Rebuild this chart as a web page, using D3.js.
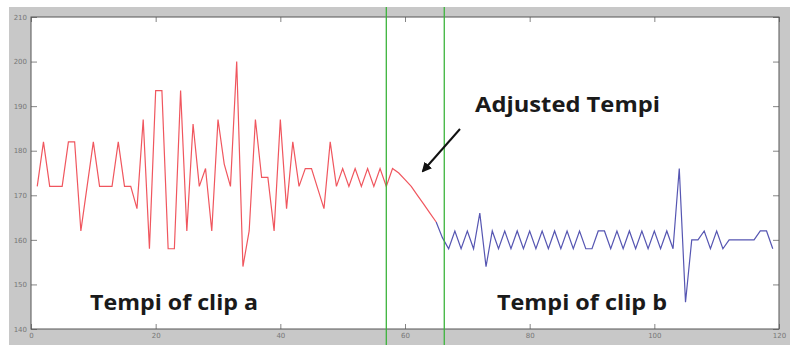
<!DOCTYPE html>
<html>
<head>
<meta charset="utf-8">
<script src="https://cdn.jsdelivr.net/npm/d3@7"></script>
<style>
  body { margin: 0; background: #fff; }
  svg { display: block; }
</style>
</head>
<body>
<svg id="chart" width="790" height="345"></svg>
<script>
// tempo of clip a (samples 1..65, the tail after 58 is the adjusted part)
const clipAStart = 1;
const clipATempi = [
  172, 182, 172, 172, 172, 182, 182, 162, 172, 182,
  172, 172, 172, 182, 172, 172, 167, 187, 158, 193.5,
  193.5, 158, 158, 193.5, 162, 186, 172, 176, 162, 187,
  177, 172, 200, 154, 162, 187, 174, 174, 162, 187,
  167, 182, 172, 176, 176, 171.5, 167, 182, 172, 176,
  172, 176, 172, 176, 172, 176, 172, 176, 175, 173.5,
  172, 170, 168, 166, 164
];
// tempo of clip b (samples 65..119)
const clipBStart = 65;
const clipBTempi = [
  164, 160.5, 158, 162, 158, 162, 158, 166, 154, 162,
  158, 162, 158, 162, 158, 162, 158, 162, 158, 162,
  158, 162, 158, 162, 158, 158, 162, 162, 158, 162,
  158, 162, 158, 162, 158, 162, 158, 162, 158, 176,
  146, 160, 160, 162, 158, 162, 158, 160, 160, 160,
  160, 160, 162, 162, 158
];
const markers = [57, 66.3];
const xTicks = [0, 20, 40, 60, 80, 100, 120];
const yTicks = [140, 150, 160, 170, 180, 190, 200, 210];

const svg = d3.select('#chart');
const plot = { left: 31, right: 779, top: 17, bottom: 329 };

const x = d3.scaleLinear().domain([0, 120]).range([plot.left, plot.right]);
const y = d3.scaleLinear().domain([140, 210]).range([plot.bottom, plot.top]);

// figure background (matlab grey) and axes area
svg.append('rect')
  .attr('x', 9).attr('y', 7)
  .attr('width', 781).attr('height', 338)
  .attr('fill', '#c8c8c8');
svg.append('rect')
  .attr('x', plot.left).attr('y', plot.top)
  .attr('width', plot.right - plot.left).attr('height', plot.bottom - plot.top)
  .attr('fill', '#fff');

// axes, ticks pointing inward on all four sides
const tickStyle = g => {
  g.select('.domain').remove();
  g.selectAll('line').attr('stroke', '#666').attr('stroke-width', 0.8);
  g.selectAll('text')
    .attr('fill', '#777')
    .style('font-family', 'DejaVu Sans')
    .style('font-size', '7px');
};

svg.append('g')
  .attr('transform', `translate(0,${plot.bottom})`)
  .call(d3.axisBottom(x).tickValues(xTicks).tickSize(-5).tickPadding(4))
  .call(tickStyle);
svg.append('g')
  .attr('transform', `translate(0,${plot.top})`)
  .call(d3.axisTop(x).tickValues(xTicks).tickSize(-5).tickFormat(''))
  .call(tickStyle);
svg.append('g')
  .attr('transform', `translate(${plot.left},0)`)
  .call(d3.axisLeft(y).tickValues(yTicks).tickSize(-6).tickPadding(4))
  .call(tickStyle);
svg.append('g')
  .attr('transform', `translate(${plot.right},0)`)
  .call(d3.axisRight(y).tickValues(yTicks).tickSize(-6).tickFormat(''))
  .call(tickStyle);

svg.append('rect')
  .attr('x', plot.left).attr('y', plot.top)
  .attr('width', plot.right - plot.left).attr('height', plot.bottom - plot.top)
  .attr('fill', 'none')
  .attr('stroke', '#555')
  .attr('stroke-width', 1);

// series
const line = d3.line()
  .x(d => x(d.i))
  .y(d => y(d.v));

const clipA = clipATempi.map((v, k) => ({ i: clipAStart + k, v }));
const clipB = clipBTempi.map((v, k) => ({ i: clipBStart + k, v }));

svg.append('path')
  .datum(clipA)
  .attr('d', line)
  .attr('fill', 'none')
  .attr('stroke', '#f0565e')
  .attr('stroke-width', 1.2);

svg.append('path')
  .datum(clipB)
  .attr('d', line)
  .attr('fill', 'none')
  .attr('stroke', '#5656b2')
  .attr('stroke-width', 1.2);

// green section markers run over the whole figure
svg.selectAll('line.marker')
  .data(markers)
  .join('line')
  .attr('class', 'marker')
  .attr('x1', d => x(d)).attr('x2', d => x(d))
  .attr('y1', 7).attr('y2', 345)
  .attr('stroke', '#3cb43c')
  .attr('stroke-width', 1.3);

// annotations
svg.append('defs').append('marker')
  .attr('id', 'head')
  .attr('viewBox', '0 0 10 10')
  .attr('refX', 8).attr('refY', 5)
  .attr('markerWidth', 5).attr('markerHeight', 5)
  .attr('orient', 'auto')
  .append('path')
  .attr('d', 'M0,0 L10,5 L0,10 z')
  .attr('fill', '#111');

svg.append('line')
  .attr('x1', 460).attr('y1', 129)
  .attr('x2', 423).attr('y2', 171)
  .attr('stroke', '#111')
  .attr('stroke-width', 2)
  .attr('marker-end', 'url(#head)');

const labels = [
  { text: 'Adjusted Tempi', x: 475, y: 112, w: 185 },
  { text: 'Tempi of clip a', x: 90, y: 310, w: 168 },
  { text: 'Tempi of clip b', x: 497, y: 310, w: 170 }
];
svg.selectAll('text.note')
  .data(labels)
  .join('text')
  .attr('class', 'note')
  .attr('x', d => d.x).attr('y', d => d.y)
  .attr('textLength', d => d.w)
  .attr('lengthAdjust', 'spacingAndGlyphs')
  .attr('fill', '#1a1a1a')
  .style('font-family', 'Open Sans')
  .style('font-weight', 'bold')
  .style('font-size', '22px')
  .text(d => d.text);
</script>
</body>
</html>
